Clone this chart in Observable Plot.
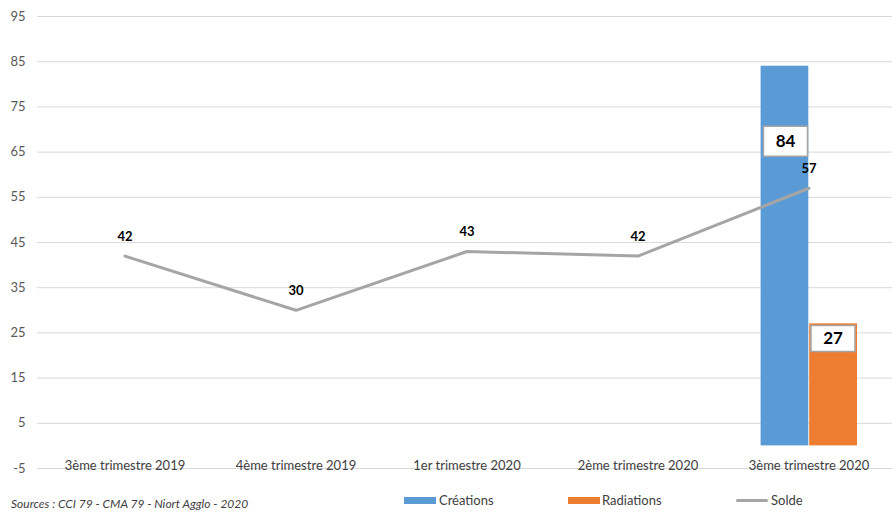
<!DOCTYPE html>
<html><head><meta charset="utf-8">
<script src="https://cdn.jsdelivr.net/npm/d3@7"></script>
<script src="https://cdn.jsdelivr.net/npm/@observablehq/plot@0.6"></script>
<style>
body{margin:0;background:#fff;overflow:hidden;font-family:Lato,"Open Sans",sans-serif}
#wrap{position:relative;width:892px;height:513px;overflow:hidden}
.sw{position:absolute}
.lt{position:absolute;font-size:13px;color:#404040;line-height:16px}
#cap{position:absolute;left:11px;top:496px;font-size:12px;font-style:italic;color:#404040;line-height:16px}
</style></head><body><div id="wrap"></div>
<script>
const categories = ["3ème trimestre 2019","4ème trimestre 2019","1er trimestre 2020","2ème trimestre 2020","3ème trimestre 2020"];
const solde = [42, 30, 43, 42, 57];
const creations = [null, null, null, null, 84];
const radiations = [null, null, null, null, 27];
const yTicks = [-5, 5, 15, 25, 35, 45, 55, 65, 75, 85, 95];
const seriesNames = ["Créations", "Radiations", "Solde"];
const colors = ["#5b9bd5", "#ed7d31", "#a5a5a5"];

const toRows = vals => categories.map((c, i) => ({cat: c, value: vals[i]})).filter(d => d.value != null);
const crRows = toRows(creations);
const raRows = toRows(radiations);
const soRows = toRows(solde);

const boxSymbol = {draw(ctx) { ctx.rect(-22, -15, 44, 30); }};
const boxSymbolSmall = {draw(ctx) { ctx.rect(-22, -13, 44, 26); }};

const plot = Plot.plot({
  width: 892, height: 480,
  marginTop: 16, marginBottom: 12, marginLeft: 37, marginRight: 0,
  x: {domain: categories, range: [37, 896], padding: 0, axis: null},
  y: {domain: [-5, 95], axis: null},
  style: {fontFamily: "Lato, 'Open Sans', sans-serif", fontSize: "13px", background: "#fff"},
  marks: [
    Plot.gridY(yTicks, {stroke: "#d9d9d9", strokeOpacity: 1}),
    Plot.axisY(yTicks, {tickSize: 0, tickPadding: 12, fontSize: 13, fill: "#595959", label: null, tickFormat: d => String(d)}),
    Plot.text(categories, {x: d => d, y: -5, lineAnchor: "bottom", dy: 1, fill: "#404040", fontSize: 13}),
    Plot.barY(crRows, {x: "cat", y: "value", fill: colors[0], insetLeft: 37.6, insetRight: 85.7}),
    Plot.barY(raRows, {x: "cat", y: "value", fill: colors[1], insetLeft: 86.2, insetRight: 37}),
    Plot.lineY(soRows, {x: "cat", y: "value", stroke: colors[2], strokeWidth: 3}),
    Plot.text(soRows, {x: "cat", y: "value", text: d => String(d.value), dy: -19.5, lineAnchor: "middle", fontWeight: "bold", fill: "#000", fontSize: 13}),
    Plot.dot(crRows, {x: "cat", y: "value", dx: -23.5, dy: 75, symbol: boxSymbol, fill: "#fff", stroke: "#a6a6a6", strokeWidth: 1.5}),
    Plot.text(crRows, {x: "cat", y: "value", text: d => String(d.value), dx: -23.5, dy: 75, lineAnchor: "middle", fontWeight: "bold", fill: "#000", fontSize: 17}),
    Plot.dot(raRows, {x: "cat", y: "value", dx: 24, dy: 14.6, symbol: boxSymbolSmall, fill: "#fff", stroke: "#a6a6a6", strokeWidth: 1.5}),
    Plot.text(raRows, {x: "cat", y: "value", text: d => String(d.value), dx: 24, dy: 15, lineAnchor: "middle", fontWeight: "bold", fill: "#000", fontSize: 17})
  ]
});

const wrap = document.getElementById("wrap");
plot.style.overflow = "visible";
wrap.appendChild(plot);

const legendPos = [
  {sw: 404, tx: 439, h: 7, top: 497},
  {sw: 568, tx: 602, h: 7, top: 497},
  {sw: 736, tx: 771, h: 3, top: 499}
];
seriesNames.forEach((name, i) => {
  const p = legendPos[i];
  const s = document.createElement("div");
  s.className = "sw";
  s.style.cssText = `left:${p.sw}px;top:${p.top}px;width:32px;height:${p.h}px;background:${colors[i]};${i===2?"border-radius:2px;":""}`;
  wrap.appendChild(s);
  const t = document.createElement("div");
  t.className = "lt";
  t.style.cssText = `left:${p.tx}px;top:492px;`;
  t.textContent = name;
  wrap.appendChild(t);
});
const cap = document.createElement("div");
cap.id = "cap";
cap.textContent = "Sources : CCI 79 - CMA 79 - Niort Agglo - 2020";
wrap.appendChild(cap);
</script></body></html>
